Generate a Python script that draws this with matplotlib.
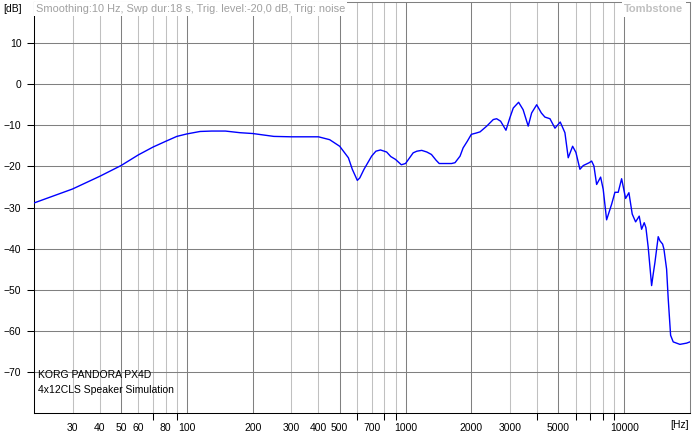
import numpy as np
import matplotlib
matplotlib.use('Agg')
import matplotlib.pyplot as plt

# frequency response (Hz, dB)
freq = [20, 30, 40, 50, 60, 70, 80, 90, 100, 115, 130, 150, 175, 200, 250, 300,
        400, 450, 500, 548, 571, 602, 618, 646, 700, 732, 768, 820, 856, 900, 957,
        1000, 1084, 1127, 1186, 1252, 1314, 1380, 1426, 1624, 1684, 1776, 1834,
        1916, 2000, 2100, 2192, 2352, 2520, 2610, 2722, 2880, 3000, 3110, 3290,
        3450, 3640, 3774, 3980, 4180, 4340, 4577, 4825, 5100, 5358, 5548, 5811,
        6016, 6275, 6497, 6920, 7098, 7272, 7482, 7804, 8020, 8312, 8762, 9072,
        9392, 9734, 10152, 10512, 10884, 11280, 11716, 12014, 12350, 12572,
        12880, 13350, 13576, 13822, 14310, 14570, 14988, 15196, 15632, 15900,
        16306, 16760, 17982, 19300, 19978]
level = [-28.9, -25.5, -22.4, -19.8, -17.2, -15.3, -13.9, -12.7, -12.1, -11.5,
         -11.4, -11.4, -11.8, -12.0, -12.7, -12.8, -12.8, -13.5, -15.1, -17.9,
         -20.7, -23.4, -22.8, -20.7, -17.5, -16.3, -16.0, -16.5, -17.6, -18.3,
         -19.6, -19.3, -16.7, -16.3, -16.1, -16.5, -17.1, -18.5, -19.3, -19.3,
         -19.1, -17.5, -15.5, -13.9, -12.2, -11.9, -11.6, -10.2, -8.6, -8.4,
         -9.0, -11.2, -8.2, -5.8, -4.4, -6.2, -10.2, -7.0, -5.0, -7.0, -8.0,
         -8.4, -10.7, -9.2, -11.8, -17.9, -15.1, -16.6, -20.7, -19.8, -19.1,
         -18.7, -19.9, -24.4, -22.6, -25.6, -33.0, -29.2, -26.3, -26.3, -23.0,
         -27.8, -26.4, -31.6, -33.5, -32.1, -35.3, -33.7, -34.9, -39.7, -49.0,
         -46.2, -43.4, -37.1, -38.1, -38.9, -40.1, -45.0, -52.2, -61.1, -62.7,
         -63.3, -63.0, -62.7]

x_labels = [30, 40, 50, 60, 80, 100, 200, 300, 400, 500, 700, 1000, 2000, 3000, 5000, 10000]
x_unlabeled = [70, 90, 600, 800, 900, 4000, 6000, 7000, 8000, 9000]
grid_dark = [50, 100, 200, 500, 1000, 2000, 5000, 10000]
grid_light = [30, 40, 60, 70, 80, 90, 300, 400, 600, 700, 800, 900,
              3000, 4000, 6000, 7000, 8000, 9000]
y_labels = [10, 0, -10, -20, -30, -40, -50, -60, -70]

plt.rcParams['font.family'] = ['Liberation Sans', 'DejaVu Sans']
plt.rcParams['font.size'] = 7.5

W, H = 692, 444
fig = plt.figure(figsize=(W / 100, H / 100), dpi=100)
fig.set_facecolor('white')
ax = fig.add_axes([34 / W, (H - 413) / H, 656 / W, 411 / H])
ax.set_xscale('log')
ax.set_xlim(20, 20000)
ax.set_ylim(-80, 20)

for f in grid_light:
    ax.axvline(f, color='#c0c0c0', lw=0.75, zorder=1)
for f in grid_dark:
    ax.axvline(f, color='#808080', lw=0.75, zorder=1)
for v in y_labels:
    ax.axhline(v, color='#808080', lw=0.75, zorder=1)

ax.plot(freq, level, color='#0000ff', lw=1.0, zorder=3)

ax.set_xticks(x_labels, [str(v) for v in x_labels])
ax.set_xticks(x_unlabeled, minor=True)
ax.xaxis.set_minor_formatter(matplotlib.ticker.NullFormatter())
ax.tick_params(axis='x', which='major', length=0, pad=7, labelsize=7.5)
ax.tick_params(axis='x', which='minor', length=5, width=0.75, color='black')
ax.set_yticks(y_labels)
ax.tick_params(axis='y', length=5, width=0.75, pad=4, labelsize=7.5)

for s in ['left', 'bottom']:
    ax.spines[s].set_color('black')
    ax.spines[s].set_linewidth(0.75)
for s in ['top', 'right']:
    ax.spines[s].set_color('#808080')
    ax.spines[s].set_linewidth(0.75)

ax.text(0.003, 0.982, 'Smoothing:10 Hz, Swp dur:18 s, Trig. level:-20,0 dB, Trig: noise',
        transform=ax.transAxes, color='#a0a0a0', fontsize=7.9, va='center', ha='left',
        zorder=5, bbox=dict(facecolor='white', edgecolor='none', pad=1.5))
ax.text(0.99, 0.982, 'Tombstone', transform=ax.transAxes, color='#c0c0c0',
        fontsize=8, fontweight='bold', va='center', ha='right', zorder=5,
        bbox=dict(facecolor='white', edgecolor='none', pad=1.5))
ax.text(0.006, 0.075, 'KORG PANDORA PX4D\n4x12CLS Speaker Simulation',
        transform=ax.transAxes, color='black', fontsize=7.5, va='center', ha='left',
        linespacing=1.6, zorder=5)

fig.text(22 / W, 1 - 9 / H, '[dB]', ha='right', va='center', fontsize=7.5)
fig.text(689 / W, 1 - 425 / H, '[Hz]', ha='right', va='center', fontsize=7.5)

fig.savefig('out.png', dpi=100)
